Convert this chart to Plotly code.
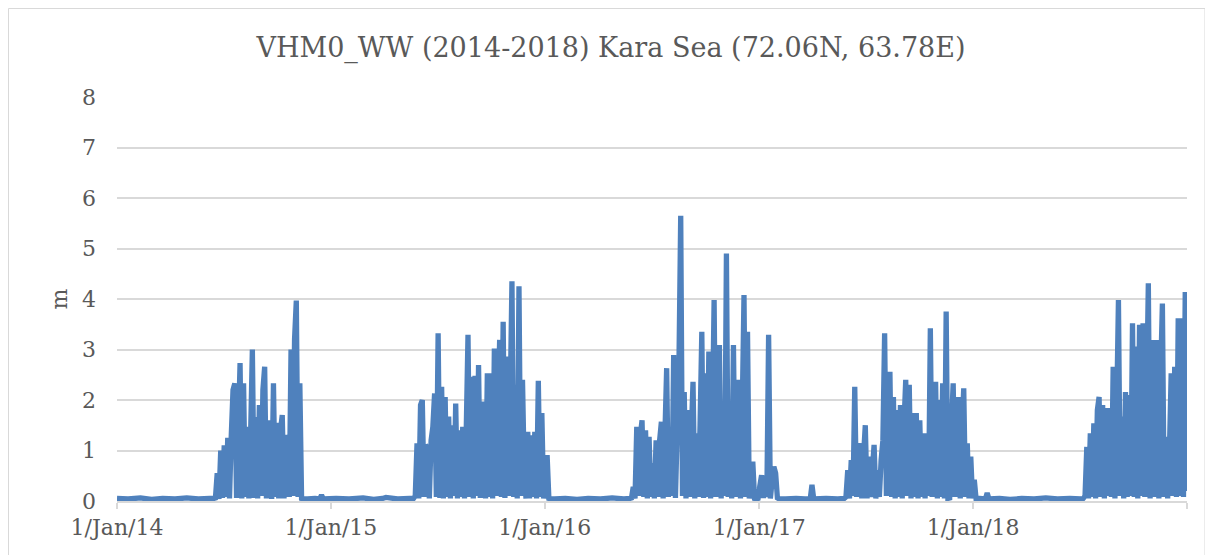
import pandas as pd
import plotly.graph_objects as go

# calm (ice-covered) periods: date, wave height (m)
calm_dates = [
    "2014-01-01", "2014-01-20", "2014-02-10", "2014-03-01", "2014-03-20", "2014-04-10",
    "2014-04-30", "2014-05-20", "2014-06-08",
    "2014-11-22", "2014-12-05", "2014-12-13", "2014-12-16", "2014-12-19", "2015-01-10",
    "2015-02-01", "2015-02-25", "2015-03-15", "2015-03-30", "2015-04-05", "2015-04-25", "2015-05-15",
    "2016-01-18", "2016-02-05", "2016-02-25", "2016-03-15", "2016-04-05", "2016-04-25", "2016-05-15",
    "2017-02-15", "2017-03-05", "2017-03-20", "2017-03-29", "2017-04-01", "2017-04-04",
    "2017-04-25", "2017-05-15",
    "2018-01-12", "2018-01-22", "2018-01-25", "2018-01-28", "2018-02-15", "2018-03-05",
    "2018-03-25", "2018-04-15", "2018-05-05", "2018-05-25", "2018-06-15", "2018-07-04",
]
calm_values = [
    0.05, 0.04, 0.06, 0.03, 0.05, 0.04,
    0.06, 0.04, 0.05,
    0.04, 0.05, 0.04, 0.12, 0.04, 0.05,
    0.04, 0.06, 0.03, 0.05, 0.07, 0.04, 0.05,
    0.04, 0.05, 0.03, 0.05, 0.04, 0.06, 0.04,
    0.04, 0.05, 0.04, 0.04, 0.32, 0.04,
    0.05, 0.04,
    0.05, 0.04, 0.16, 0.04, 0.05, 0.03,
    0.05, 0.04, 0.06, 0.04, 0.05, 0.04,
]

# open-water seasons, values every 3 days from the start date
start_2014 = "2014-06-15"
vals_2014 = [
    0.05, 0.06, 0.55, 0.04, 1.0, 0.06, 1.1, 0.08, 1.25, 0.05,
    1.3, 2.2, 2.33, 0.06, 1.4, 2.73, 0.05, 2.33, 0.08, 1.47,
    0.05, 1.3, 3.0, 0.06, 1.66, 0.05, 1.9, 0.1, 2.2, 2.66,
    0.05, 1.3, 1.6, 0.04, 2.33, 0.08, 1.55, 0.05, 1.4, 1.7,
    0.05, 1.2, 1.3, 0.08, 3.0, 0.1, 3.2, 3.97, 0.08, 2.33,
    0.05, 0.04,
]

start_2015 = "2015-05-22"
vals_2015 = [
    0.05, 0.1, 1.14, 0.05, 1.9, 2.0, 0.08, 1.1, 1.07, 0.05,
    1.2, 1.47, 2.13, 0.08, 3.32, 0.06, 2.26, 0.05, 2.06, 0.08,
    1.67, 0.05, 1.5, 0.1, 1.93, 0.05, 1.4, 0.08, 1.47, 0.05,
    1.4, 3.29, 0.08, 2.46, 0.05, 2.48, 0.1, 2.69, 0.06, 1.5,
    1.97, 0.05, 2.53, 0.08, 2.53, 0.05, 3.02, 0.1, 1.8, 3.19,
    0.08, 3.55, 0.06, 2.86, 0.1, 2.0, 4.35, 0.08, 2.3, 0.05,
    4.25, 0.1, 2.4, 0.55, 0.05, 1.37, 0.05, 1.3, 0.08, 1.37,
    0.05, 2.38, 0.08, 1.74, 0.05, 0.4, 0.91, 0.05, 0.04,
]

start_2016 = "2016-05-25"
vals_2016 = [
    0.05, 0.06, 0.28, 0.05, 1.47, 0.1, 1.3, 1.6, 0.08, 1.4,
    0.05, 1.27, 0.08, 0.75, 0.05, 1.2, 0.08, 1.2, 1.57, 0.05,
    1.3, 2.63, 0.08, 1.2, 0.1, 2.89, 0.06, 1.4, 2.7, 5.65,
    0.1, 2.16, 0.05, 1.8, 0.08, 1.3, 2.36, 0.05, 1.34, 0.08,
    1.5, 3.35, 0.06, 2.53, 0.08, 2.96, 0.05, 1.5, 3.98, 0.08,
    1.6, 3.09, 0.05, 1.6, 0.1, 4.9, 0.08, 1.9, 0.05, 3.09,
    0.08, 1.5, 2.4, 0.05, 1.8, 4.08, 0.08, 3.35, 0.05, 0.3,
    0.78, 0.05, 0.04, 0.05, 0.3, 0.51, 0.06, 0.5, 0.08, 3.29,
    0.05, 0.4, 0.68, 0.55, 0.06, 0.04, 0.04,
]

start_2017 = "2017-05-26"
vals_2017 = [
    0.05, 0.08, 0.61, 0.05, 0.81, 0.1, 2.26, 0.08, 1.0, 1.14,
    0.05, 0.9, 1.5, 0.05, 0.88, 0.08, 0.6, 1.11, 0.05, 0.61,
    0.08, 0.81, 1.2, 3.32, 0.1, 1.6, 2.56, 0.08, 2.06, 0.05,
    1.8, 0.08, 1.9, 0.05, 1.5, 2.4, 0.1, 2.3, 0.05, 1.74,
    0.08, 1.74, 0.05, 1.6, 0.08, 1.34, 0.05, 1.34, 0.1, 3.42,
    0.08, 1.5, 2.36, 0.05, 2.0, 0.08, 2.33, 0.05, 3.75, 0.05,
    0.06, 1.5, 2.33, 0.08, 1.6, 2.06, 0.05, 1.4, 2.23, 0.08,
    1.14, 0.05, 0.88, 0.05, 0.42, 0.05,
]

start_2018 = "2018-07-08"
vals_2018 = [
    0.05, 0.1, 1.07, 0.05, 1.34, 0.08, 1.54, 0.05, 1.8, 2.06,
    0.08, 1.9, 0.05, 1.84, 0.1, 1.84, 0.08, 2.66, 0.05, 1.8,
    3.98, 0.1, 1.67, 0.05, 2.16, 0.08, 2.1, 0.1, 3.52, 0.08,
    3.06, 0.05, 3.49, 0.1, 3.52, 0.08, 2.0, 4.31, 0.05, 2.2,
    3.19, 0.08, 3.19, 0.05, 2.5, 3.91, 0.08, 1.27, 0.05, 1.0,
    2.53, 0.1, 2.66, 0.08, 3.62, 0.1, 3.62, 0.08, 4.14, 0.2,
]

tick_dates = ["2014-01-01", "2015-01-01", "2016-01-01", "2017-01-01", "2018-01-01", "2019-01-01"]
tick_text = ["1/Jan/14", "1/Jan/15", "1/Jan/16", "1/Jan/17", "1/Jan/18", ""]

parts = [pd.DataFrame({"t": pd.to_datetime(calm_dates), "v": calm_values})]
for start, vals in [(start_2014, vals_2014), (start_2015, vals_2015), (start_2016, vals_2016),
                    (start_2017, vals_2017), (start_2018, vals_2018)]:
    parts.append(pd.DataFrame({"t": pd.date_range(start, periods=len(vals), freq="3D"), "v": vals}))
df = pd.concat(parts).sort_values("t")

GREY = "#595959"
FONT = "DejaVu Serif"

# page body has an 8px margin, so the figure is 8px smaller than the window
W, H = 1205, 547

fig = go.Figure()
fig.add_trace(go.Scatter(
    x=df["t"], y=df["v"], mode="lines",
    line=dict(color="#4f81bd", width=5.3, simplify=False),
    hoverinfo="x+y", showlegend=False,
))

fig.update_layout(
    width=W, height=H,
    margin=dict(l=109, r=26, t=89, b=54),
    plot_bgcolor="#ffffff", paper_bgcolor="#ffffff",
    font=dict(family=FONT, color=GREY, size=22),
    title=dict(text="VHM0_WW (2014-2018) Kara Sea (72.06N, 63.78E)",
               x=(611 - 8) / W, xref="container", xanchor="center",
               y=1 - 40 / H, yref="container", yanchor="middle",
               font=dict(family=FONT, size=27, color=GREY)),
    xaxis=dict(
        range=["2014-01-01", "2019-01-01"],
        tickvals=tick_dates, ticktext=tick_text,
        showgrid=False, zeroline=False,
        showline=True, linecolor="#d9d9d9", linewidth=1.5,
        ticks="outside", ticklen=6, tickcolor="#d9d9d9", tickwidth=1.5,
        tickfont=dict(family=FONT, size=22, color=GREY),
    ),
    yaxis=dict(
        range=[0, 8], dtick=1,
        showgrid=True, gridcolor="#d9d9d9", gridwidth=1.5,
        zeroline=False, showline=False, ticks="",
        ticklabelstandoff=20,
        tickfont=dict(family=FONT, size=22, color=GREY),
        title=dict(text="m", standoff=8, font=dict(family=FONT, size=22, color=GREY)),
    ),
    shapes=[dict(type="rect", xref="paper", yref="paper",
                 x0=(8.5 - 117) / 1070, x1=(1205 - 117) / 1070,
                 y0=(501 - 570) / 404, y1=(501 - 8.5) / 404,
                 line=dict(color="#d9d9d9", width=1), layer="below")],
)

fig.write_html("out.html")
